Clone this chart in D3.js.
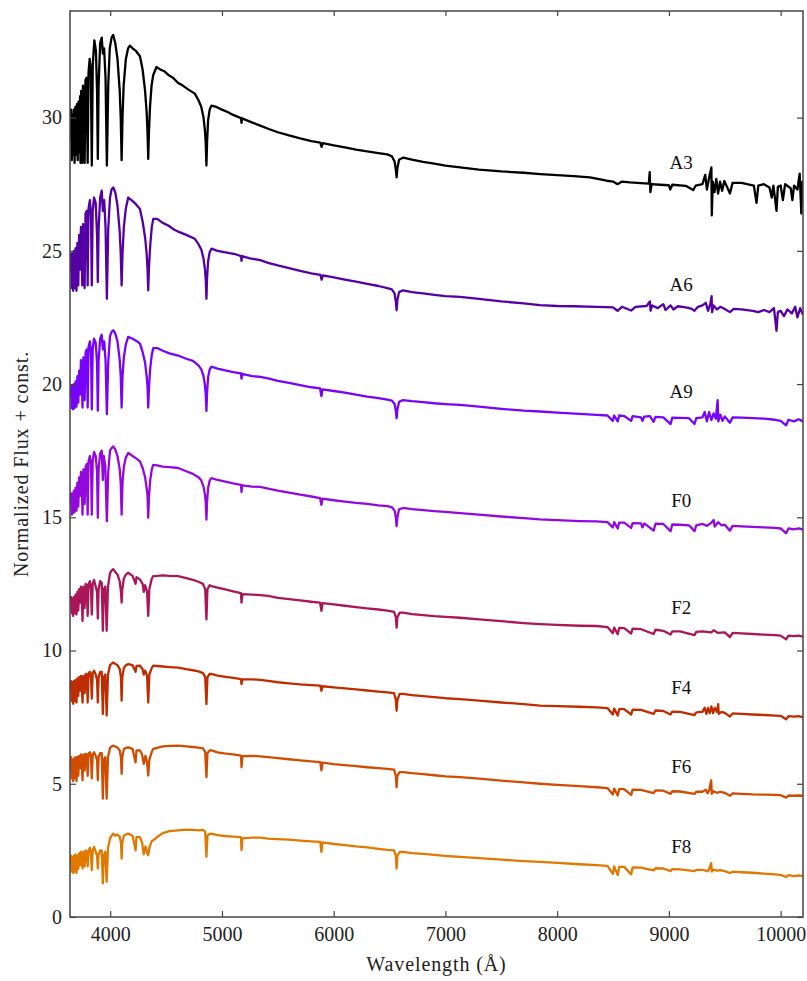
<!DOCTYPE html>
<html>
<head>
<meta charset="utf-8">
<script src="https://cdn.jsdelivr.net/npm/d3@7"></script>
<style>
body { margin: 0; background: #fff; }
svg { display: block; }
.tick text { font-family: "Liberation Serif", "Times New Roman", serif; font-size: 20px; fill: #222; }
.tick line { stroke: #444; stroke-width: 1.2px; }
.frame { fill: none; stroke: #444; stroke-width: 1.5px; }
.spectrum { fill: none; stroke-width: 2.3px; stroke-linejoin: round; }
.sptype { font-family: "Liberation Serif", "Times New Roman", serif; font-size: 19px; fill: #111; }
.axtitle { font-family: "Liberation Serif", "Times New Roman", serif; font-size: 20px; fill: #222; letter-spacing: 0.9px; }
</style>
</head>
<body>
<svg id="chart" width="807" height="981"></svg>
<script>
// spectral types, top to bottom
var spectralTypes = ["A3", "A6", "A9", "F0", "F2", "F4", "F6", "F8"];
var lineColors = ["#000000", "#5500a4", "#7803fb", "#9309dd", "#aa1657", "#be2c00", "#d04c00", "#e17800"];
var wavelengthTicks = [4000, 5000, 6000, 7000, 8000, 9000, 10000];
var fluxTicks = [0, 5, 10, 15, 20, 25, 30];

// [wavelength (A), normalized flux + offset]
var specA3 = [[3645,29.2],[3650,30.3],[3656,28.4],[3662,30.1],[3668,28.6],[3674,30.3],[3681,28.3],[3688,30.4],[3695,28.6],[3702,30.5],[3709,28.4],[3716,30.6],[3723,28.7],[3730,30.8],[3734,28.3],[3740,31.0],[3746,28.8],[3750,28.3],[3756,31.2],[3764,30.6],[3771,28.3],[3778,31.4],[3788,31.5],[3798,28.3],[3806,31.7],[3816,32.2],[3826,31.8],[3835,28.2],[3844,32.0],[3858,32.9],[3872,32.5],[3882,31.0],[3889,28.45],[3896,31.2],[3910,32.8],[3924,33.0],[3934,32.4],[3945,32.6],[3958,31.5],[3970,28.2],[3982,31.2],[3996,32.6],[4012,33.0],[4027,33.1],[4045,32.8],[4065,32.2],[4085,31.0],[4094,30.0],[4102,28.4],[4110,30.0],[4120,31.2],[4140,32.2],[4160,32.6],[4176,32.7],[4200,32.6],[4230,32.5],[4266,32.3],[4290,31.8],[4312,31.0],[4326,30.2],[4334,29.4],[4340,28.45],[4347,29.5],[4356,30.4],[4370,31.2],[4385,31.6],[4414,31.9],[4450,31.8],[4480,31.75],[4520,31.6],[4560,31.5],[4608,31.3],[4650,31.2],[4700,31.05],[4757,30.9],[4790,30.65],[4815,30.4],[4835,30.0],[4848,29.5],[4855,29.0],[4861,28.2],[4867,29.1],[4876,29.9],[4890,30.3],[4906,30.45],[4950,30.4],[5000,30.3],[5055,30.2],[5100,30.1],[5170,29.98],[5175,29.8],[5180,29.97],[5250,29.85],[5342,29.7],[5413,29.58],[5500,29.45],[5600,29.33],[5700,29.22],[5800,29.12],[5880,29.06],[5892,28.9],[5902,29.04],[6000,28.96],[6100,28.88],[6200,28.8],[6300,28.73],[6400,28.67],[6480,28.62],[6520,28.55],[6545,28.35],[6556,28.05],[6563,27.76],[6570,28.1],[6585,28.42],[6623,28.5],[6700,28.42],[6800,28.34],[6900,28.27],[7000,28.2],[7131,28.13],[7300,28.05],[7500,27.98],[7700,27.93],[7850,27.88],[8000,27.84],[8150,27.8],[8293,27.76],[8443,27.63],[8500,27.6],[8540,27.5],[8580,27.6],[8651,27.57],[8750,27.54],[8820,27.52],[8828,27.95],[8834,27.2],[8845,27.5],[8920,27.48],[9000,27.46],[9012,27.3],[9030,27.48],[9150,27.44],[9218,27.28],[9240,27.45],[9300,27.5],[9325,27.85],[9340,27.3],[9360,27.75],[9380,28.13],[9384,26.33],[9392,27.6],[9408,27.2],[9424,27.7],[9440,27.15],[9458,27.6],[9476,27.25],[9496,27.62],[9520,27.4],[9546,27.15],[9570,27.55],[9650,27.55],[9700,27.5],[9760,27.45],[9784,26.8],[9800,27.45],[9850,27.5],[9900,27.38],[9920,27.0],[9935,27.45],[9963,26.5],[9975,27.4],[10000,27.45],[10020,26.9],[10040,27.5],[10090,27.35],[10105,26.9],[10120,27.45],[10150,27.3],[10170,27.9],[10185,26.4],[10195,27.6],[10200,27.3]];

var specA6 = [[3645,24.2],[3650,24.9],[3656,23.6],[3662,24.9],[3668,23.5],[3675,25.0],[3682,23.6],[3690,25.1],[3698,23.5],[3706,25.3],[3714,23.7],[3722,25.6],[3730,24.3],[3738,25.9],[3745,24.6],[3750,23.7],[3757,26.0],[3764,25.0],[3771,23.6],[3779,26.4],[3790,26.5],[3798,23.7],[3806,26.6],[3818,26.9],[3828,26.3],[3835,23.7],[3843,26.5],[3855,27.0],[3870,26.8],[3882,25.6],[3889,23.83],[3896,25.8],[3910,27.0],[3924,27.26],[3934,26.5],[3946,26.9],[3958,25.9],[3970,23.2],[3982,25.8],[3998,27.0],[4012,27.3],[4027,27.38],[4045,27.2],[4065,26.7],[4085,25.7],[4094,24.9],[4102,23.7],[4110,24.9],[4122,25.9],[4140,26.6],[4161,27.0],[4190,26.9],[4230,26.75],[4266,26.57],[4290,26.1],[4312,25.5],[4326,24.9],[4334,24.3],[4340,23.52],[4347,24.4],[4358,25.2],[4372,25.9],[4385,26.2],[4420,26.2],[4470,26.05],[4519,25.95],[4570,25.8],[4620,25.7],[4680,25.6],[4757,25.45],[4790,25.25],[4815,25.05],[4835,24.7],[4848,24.3],[4855,23.9],[4861,23.2],[4867,24.0],[4876,24.6],[4890,24.95],[4906,25.08],[4960,25.0],[5020,24.95],[5115,24.88],[5170,24.8],[5175,24.62],[5180,24.8],[5250,24.72],[5342,24.65],[5413,24.55],[5500,24.45],[5600,24.35],[5700,24.25],[5800,24.15],[5880,24.1],[5892,23.92],[5902,24.08],[6000,24.0],[6100,23.92],[6200,23.84],[6300,23.76],[6400,23.68],[6480,23.6],[6520,23.55],[6545,23.4],[6556,23.1],[6563,22.77],[6570,23.15],[6585,23.45],[6621,23.52],[6700,23.45],[6800,23.4],[6900,23.35],[7000,23.3],[7131,23.27],[7300,23.2],[7500,23.1],[7700,23.03],[7846,22.96],[8000,22.93],[8150,22.92],[8353,22.9],[8500,22.88],[8540,22.75],[8580,22.9],[8662,22.76],[8700,22.9],[8800,22.93],[8830,23.1],[8836,22.75],[8850,22.95],[8900,22.85],[8950,23.0],[8970,22.78],[9015,22.95],[9040,22.8],[9080,22.92],[9150,22.88],[9200,22.83],[9229,22.75],[9260,22.9],[9300,22.95],[9330,23.05],[9350,22.75],[9370,23.0],[9382,23.3],[9386,22.7],[9400,22.95],[9430,22.8],[9460,22.9],[9500,22.82],[9546,22.7],[9580,22.82],[9650,22.8],[9750,22.75],[9800,22.7],[9850,22.78],[9900,22.7],[9940,22.85],[9963,22.0],[9975,22.7],[10000,22.75],[10030,22.55],[10060,22.8],[10100,22.65],[10130,22.9],[10150,22.5],[10175,22.85],[10200,22.6]];

var specA9 = [[3645,19.5],[3650,19.9],[3656,19.1],[3662,19.95],[3668,19.05],[3675,20.0],[3682,19.1],[3690,20.1],[3698,19.15],[3706,20.3],[3714,19.3],[3722,20.5],[3730,19.6],[3738,20.9],[3745,20.2],[3752,19.12],[3760,21.0],[3771,19.4],[3780,21.2],[3790,21.3],[3798,19.12],[3806,21.4],[3818,21.6],[3828,21.2],[3835,19.05],[3843,21.3],[3855,21.7],[3870,21.55],[3882,20.8],[3889,19.0],[3896,20.9],[3910,21.7],[3924,21.85],[3934,21.3],[3946,21.6],[3958,20.9],[3970,18.87],[3982,20.8],[3998,21.8],[4012,21.95],[4027,22.02],[4045,21.9],[4065,21.6],[4085,20.9],[4094,20.3],[4102,19.12],[4110,20.3],[4122,21.0],[4140,21.5],[4161,21.77],[4200,21.7],[4235,21.62],[4266,21.52],[4290,21.2],[4312,20.8],[4326,20.3],[4334,19.9],[4340,19.12],[4347,19.9],[4358,20.6],[4372,21.1],[4385,21.35],[4420,21.35],[4470,21.25],[4530,21.15],[4608,21.07],[4680,20.95],[4740,20.87],[4790,20.7],[4815,20.55],[4835,20.3],[4848,19.95],[4855,19.6],[4861,18.99],[4867,19.7],[4876,20.25],[4890,20.55],[4906,20.65],[4960,20.58],[5020,20.52],[5100,20.45],[5170,20.4],[5175,20.2],[5180,20.38],[5270,20.3],[5342,20.27],[5413,20.21],[5500,20.12],[5600,20.04],[5700,19.96],[5800,19.88],[5878,19.84],[5890,19.55],[5900,19.8],[6000,19.74],[6100,19.68],[6200,19.6],[6300,19.53],[6400,19.47],[6480,19.42],[6520,19.38],[6545,19.25],[6556,19.0],[6563,18.72],[6570,19.05],[6585,19.33],[6621,19.4],[6700,19.36],[6800,19.32],[6900,19.28],[7000,19.25],[7131,19.22],[7300,19.15],[7500,19.07],[7700,19.0],[7846,18.97],[8000,18.93],[8200,18.88],[8353,18.84],[8450,18.82],[8498,18.62],[8510,18.82],[8542,18.6],[8555,18.82],[8600,18.8],[8662,18.62],[8675,18.8],[8750,18.75],[8763,18.62],[8780,18.78],[8830,18.8],[8863,18.58],[8880,18.77],[8950,18.75],[9015,18.5],[9030,18.74],[9100,18.73],[9180,18.72],[9229,18.5],[9245,18.72],[9300,18.75],[9320,18.95],[9340,18.6],[9360,18.95],[9380,18.65],[9400,18.9],[9420,18.7],[9436,19.4],[9442,18.6],[9460,18.85],[9480,18.62],[9500,18.78],[9546,18.55],[9570,18.75],[9650,18.74],[9750,18.72],[9850,18.7],[9950,18.66],[10000,18.62],[10049,18.45],[10070,18.66],[10120,18.6],[10160,18.68],[10200,18.6]];

var specF0 = [[3645,15.5],[3650,15.9],[3656,15.1],[3662,15.9],[3668,15.15],[3675,16.0],[3682,15.2],[3690,16.1],[3698,15.25],[3706,16.3],[3714,15.4],[3722,16.5],[3730,15.8],[3738,16.7],[3745,16.3],[3752,15.1],[3760,16.8],[3771,15.5],[3780,16.9],[3790,17.0],[3798,15.1],[3806,17.1],[3818,17.3],[3828,17.0],[3835,15.1],[3843,17.1],[3855,17.45],[3870,17.3],[3882,16.7],[3889,14.98],[3896,16.8],[3910,17.4],[3924,17.5],[3934,16.4],[3942,17.3],[3956,16.9],[3970,14.85],[3982,16.7],[3998,17.5],[4012,17.6],[4027,17.66],[4045,17.55],[4065,17.3],[4085,16.8],[4094,16.3],[4102,15.1],[4110,16.3],[4122,16.9],[4140,17.25],[4161,17.41],[4200,17.3],[4235,17.2],[4266,17.1],[4290,16.85],[4312,16.5],[4326,16.1],[4334,15.8],[4340,14.98],[4347,15.8],[4358,16.4],[4372,16.8],[4385,16.97],[4420,16.95],[4470,16.9],[4530,16.88],[4608,16.85],[4680,16.73],[4740,16.63],[4790,16.5],[4815,16.38],[4835,16.15],[4848,15.85],[4855,15.55],[4861,14.91],[4867,15.6],[4876,16.1],[4890,16.38],[4906,16.47],[4960,16.4],[5020,16.35],[5100,16.27],[5170,16.22],[5175,15.95],[5180,16.2],[5270,16.15],[5342,16.14],[5413,16.08],[5500,16.0],[5600,15.93],[5700,15.85],[5800,15.78],[5878,15.72],[5890,15.47],[5900,15.7],[6000,15.64],[6100,15.59],[6200,15.54],[6300,15.5],[6400,15.45],[6480,15.42],[6520,15.38],[6545,15.25],[6556,15.0],[6563,14.67],[6570,15.0],[6585,15.3],[6621,15.35],[6700,15.31],[6800,15.27],[6900,15.23],[7000,15.2],[7131,15.16],[7300,15.1],[7500,15.03],[7700,14.97],[7846,14.92],[8000,14.89],[8200,14.86],[8353,14.85],[8450,14.82],[8498,14.62],[8510,14.82],[8542,14.58],[8555,14.8],[8600,14.8],[8662,14.6],[8675,14.78],[8750,14.77],[8763,14.62],[8780,14.77],[8863,14.5],[8880,14.76],[8950,14.75],[9015,14.48],[9030,14.73],[9100,14.72],[9180,14.7],[9229,14.48],[9245,14.7],[9300,14.75],[9340,14.68],[9380,14.8],[9400,14.9],[9410,14.65],[9440,14.82],[9470,14.7],[9500,14.72],[9546,14.5],[9570,14.68],[9650,14.66],[9750,14.64],[9850,14.62],[9950,14.6],[10000,14.58],[10049,14.4],[10070,14.58],[10120,14.55],[10160,14.58],[10200,14.54]];

var specF2 = [[3645,11.8],[3650,12.0],[3656,11.4],[3662,11.95],[3668,11.3],[3675,12.0],[3682,11.4],[3690,12.1],[3698,11.35],[3706,12.2],[3714,11.5],[3722,12.3],[3730,11.8],[3738,12.4],[3745,12.0],[3752,11.11],[3760,12.4],[3771,11.6],[3780,12.5],[3790,12.45],[3798,11.3],[3806,12.5],[3818,12.6],[3828,12.3],[3835,11.35],[3843,12.5],[3855,12.65],[3870,12.4],[3882,12.2],[3889,11.2],[3896,12.3],[3910,12.6],[3924,12.55],[3934,10.74],[3942,12.3],[3956,12.4],[3968,10.74],[3980,12.4],[3998,12.9],[4012,13.0],[4027,13.05],[4045,12.95],[4065,12.85],[4085,12.6],[4096,12.2],[4102,11.8],[4108,12.3],[4122,12.7],[4140,12.85],[4161,12.92],[4200,12.8],[4227,12.5],[4235,12.75],[4266,12.67],[4290,12.5],[4300,12.2],[4312,12.45],[4330,12.2],[4340,11.3],[4350,12.3],[4372,12.7],[4385,12.79],[4420,12.8],[4470,12.82],[4530,12.8],[4608,12.79],[4680,12.72],[4740,12.65],[4790,12.58],[4830,12.5],[4850,12.3],[4861,11.17],[4870,12.3],[4890,12.45],[4906,12.42],[4960,12.36],[5020,12.3],[5100,12.22],[5170,12.15],[5175,11.8],[5183,12.12],[5270,12.1],[5342,12.08],[5413,12.05],[5500,11.98],[5600,11.93],[5700,11.88],[5800,11.83],[5878,11.8],[5890,11.49],[5900,11.78],[6000,11.73],[6100,11.68],[6200,11.63],[6300,11.58],[6400,11.54],[6480,11.5],[6540,11.45],[6556,11.25],[6563,10.86],[6570,11.25],[6590,11.42],[6621,11.42],[6700,11.37],[6800,11.33],[6900,11.29],[7000,11.26],[7131,11.23],[7300,11.17],[7500,11.1],[7700,11.03],[7846,10.99],[8000,10.96],[8200,10.93],[8353,10.92],[8450,10.88],[8498,10.65],[8510,10.86],[8542,10.61],[8555,10.85],[8600,10.84],[8662,10.64],[8675,10.82],[8750,10.8],[8863,10.62],[8880,10.78],[8950,10.74],[9015,10.6],[9030,10.72],[9100,10.72],[9229,10.58],[9245,10.7],[9300,10.72],[9380,10.68],[9400,10.76],[9440,10.66],[9500,10.68],[9546,10.5],[9570,10.66],[9650,10.64],[9750,10.62],[9850,10.6],[9950,10.58],[10000,10.56],[10049,10.42],[10070,10.56],[10120,10.54],[10160,10.56],[10200,10.52]];

var specF4 = [[3645,8.5],[3650,8.85],[3656,8.1],[3662,8.8],[3668,8.0],[3675,8.85],[3682,8.1],[3690,8.9],[3698,8.05],[3706,8.95],[3714,8.3],[3722,9.0],[3730,8.5],[3738,9.05],[3745,8.7],[3752,8.05],[3760,9.05],[3771,8.4],[3780,9.12],[3790,9.1],[3798,8.05],[3806,9.15],[3818,9.2],[3828,9.0],[3835,8.2],[3843,9.15],[3855,9.24],[3870,9.1],[3882,8.9],[3889,8.05],[3896,9.0],[3910,9.2],[3924,9.2],[3934,7.62],[3942,9.0],[3956,9.1],[3968,7.56],[3980,9.1],[3998,9.45],[4012,9.5],[4027,9.55],[4045,9.5],[4065,9.45],[4085,9.3],[4096,9.0],[4102,8.12],[4108,9.0],[4122,9.35],[4140,9.45],[4161,9.49],[4200,9.45],[4227,9.2],[4235,9.42],[4266,9.43],[4290,9.3],[4300,9.1],[4312,9.25],[4330,9.05],[4340,8.05],[4350,9.1],[4372,9.35],[4385,9.43],[4420,9.42],[4470,9.4],[4530,9.38],[4608,9.36],[4680,9.3],[4740,9.26],[4790,9.22],[4830,9.15],[4850,9.0],[4861,7.99],[4870,9.0],[4890,9.12],[4906,9.12],[4960,9.06],[5020,9.02],[5100,8.97],[5170,8.93],[5175,8.74],[5183,8.92],[5270,8.92],[5342,8.9],[5413,8.86],[5500,8.81],[5600,8.77],[5700,8.73],[5800,8.7],[5880,8.68],[5890,8.49],[5900,8.66],[6000,8.62],[6100,8.58],[6200,8.54],[6300,8.5],[6400,8.46],[6480,8.43],[6540,8.4],[6556,8.15],[6563,7.74],[6570,8.15],[6590,8.37],[6621,8.37],[6700,8.33],[6800,8.29],[6900,8.25],[7000,8.21],[7131,8.18],[7300,8.12],[7500,8.05],[7700,7.99],[7846,7.93],[8000,7.91],[8200,7.89],[8353,7.87],[8450,7.84],[8498,7.6],[8510,7.82],[8542,7.56],[8555,7.8],[8600,7.8],[8662,7.6],[8675,7.78],[8750,7.77],[8863,7.62],[8880,7.75],[8950,7.73],[9015,7.6],[9030,7.71],[9100,7.7],[9229,7.58],[9245,7.68],[9300,7.7],[9320,7.85],[9335,7.62],[9350,7.85],[9365,7.65],[9380,7.9],[9395,7.65],[9410,7.85],[9430,7.7],[9441,7.99],[9446,7.62],[9470,7.7],[9500,7.66],[9546,7.52],[9570,7.64],[9650,7.62],[9750,7.6],[9850,7.58],[9950,7.56],[10000,7.55],[10049,7.42],[10070,7.54],[10120,7.52],[10160,7.54],[10200,7.5]];

var specF6 = [[3645,5.7],[3650,6.0],[3656,5.2],[3662,5.9],[3668,5.1],[3675,5.95],[3682,5.2],[3690,6.0],[3698,5.1],[3706,6.0],[3714,5.3],[3722,6.05],[3730,5.6],[3738,6.1],[3745,5.8],[3752,5.13],[3760,6.1],[3771,5.5],[3780,6.12],[3790,6.1],[3798,5.3],[3806,6.15],[3818,6.18],[3828,6.0],[3835,5.2],[3843,6.1],[3855,6.18],[3870,6.05],[3882,5.9],[3889,5.13],[3896,6.0],[3910,6.15],[3924,6.15],[3934,4.44],[3942,5.9],[3956,6.0],[3968,4.44],[3980,6.0],[3998,6.35],[4012,6.4],[4027,6.43],[4045,6.4],[4065,6.35],[4085,6.25],[4096,6.0],[4102,5.37],[4108,6.0],[4122,6.3],[4140,6.35],[4161,6.37],[4200,6.3],[4227,5.8],[4235,6.25],[4266,6.25],[4285,6.1],[4300,5.75],[4315,6.05],[4330,5.8],[4340,5.31],[4350,5.9],[4372,6.2],[4385,6.31],[4420,6.35],[4470,6.4],[4530,6.42],[4608,6.43],[4680,6.4],[4740,6.38],[4790,6.36],[4830,6.33],[4850,6.2],[4861,5.25],[4870,6.15],[4890,6.25],[4906,6.25],[4960,6.18],[5020,6.14],[5100,6.1],[5170,6.06],[5175,5.62],[5183,6.04],[5270,6.05],[5342,6.03],[5413,6.0],[5500,5.96],[5600,5.92],[5700,5.88],[5800,5.84],[5880,5.81],[5890,5.5],[5900,5.79],[6000,5.74],[6100,5.7],[6200,5.66],[6300,5.62],[6400,5.59],[6480,5.56],[6540,5.53],[6556,5.3],[6563,4.87],[6570,5.3],[6590,5.44],[6621,5.44],[6700,5.4],[6800,5.36],[6900,5.32],[7000,5.28],[7131,5.25],[7300,5.19],[7500,5.12],[7700,5.05],[7846,5.0],[8000,4.96],[8200,4.91],[8353,4.87],[8450,4.84],[8498,4.6],[8510,4.82],[8542,4.56],[8555,4.8],[8600,4.8],[8662,4.58],[8675,4.78],[8750,4.77],[8863,4.65],[8880,4.75],[8950,4.74],[9015,4.62],[9030,4.72],[9100,4.71],[9229,4.62],[9245,4.7],[9300,4.7],[9330,4.78],[9345,4.64],[9360,4.75],[9378,5.13],[9384,4.62],[9400,4.72],[9430,4.66],[9460,4.7],[9500,4.66],[9546,4.55],[9570,4.64],[9650,4.62],[9750,4.6],[9850,4.59],[9950,4.58],[10000,4.57],[10049,4.48],[10070,4.56],[10120,4.55],[10160,4.56],[10200,4.55]];

var specF8 = [[3645,2.0],[3650,2.3],[3656,1.7],[3662,2.25],[3668,1.65],[3675,2.3],[3682,1.7],[3690,2.35],[3698,1.65],[3706,2.3],[3714,1.8],[3722,2.4],[3730,1.95],[3738,2.45],[3745,2.1],[3752,1.82],[3760,2.45],[3771,1.9],[3780,2.5],[3790,2.45],[3798,1.9],[3806,2.5],[3818,2.6],[3828,2.3],[3835,1.76],[3843,2.5],[3855,2.63],[3870,2.45],[3882,2.3],[3889,1.82],[3896,2.35],[3910,2.5],[3924,2.5],[3934,1.26],[3942,2.3],[3956,2.45],[3968,1.32],[3980,2.6],[3998,2.94],[4012,3.05],[4027,3.13],[4045,3.05],[4065,3.1],[4085,3.0],[4096,2.8],[4102,2.19],[4108,2.8],[4122,3.05],[4140,3.1],[4161,3.13],[4200,3.05],[4227,2.5],[4235,3.0],[4266,3.0],[4285,2.8],[4300,2.35],[4315,2.65],[4330,2.4],[4340,2.32],[4350,2.6],[4372,2.85],[4385,2.88],[4420,3.0],[4470,3.15],[4530,3.22],[4608,3.25],[4680,3.28],[4740,3.27],[4790,3.25],[4830,3.27],[4850,3.2],[4861,2.26],[4870,3.05],[4890,3.12],[4906,3.13],[4960,3.07],[5020,3.04],[5100,3.02],[5170,3.0],[5175,2.51],[5183,2.95],[5270,2.98],[5342,2.98],[5413,2.94],[5500,2.92],[5600,2.9],[5700,2.87],[5800,2.84],[5880,2.82],[5890,2.44],[5900,2.8],[6000,2.74],[6100,2.7],[6200,2.65],[6300,2.61],[6400,2.56],[6480,2.52],[6540,2.5],[6556,2.3],[6563,1.82],[6570,2.3],[6590,2.44],[6621,2.44],[6700,2.4],[6800,2.37],[6900,2.33],[7000,2.29],[7131,2.26],[7300,2.21],[7500,2.15],[7700,2.1],[7846,2.07],[8000,2.03],[8200,1.98],[8353,1.95],[8450,1.92],[8498,1.62],[8510,1.9],[8542,1.57],[8555,1.88],[8600,1.88],[8662,1.6],[8675,1.86],[8750,1.85],[8863,1.75],[8880,1.83],[8950,1.82],[9015,1.72],[9030,1.8],[9100,1.79],[9229,1.72],[9245,1.77],[9300,1.77],[9345,1.72],[9360,1.8],[9378,2.02],[9384,1.7],[9400,1.78],[9430,1.74],[9460,1.76],[9500,1.72],[9546,1.65],[9570,1.7],[9650,1.68],[9750,1.66],[9850,1.63],[9950,1.6],[10000,1.58],[10049,1.5],[10070,1.57],[10120,1.53],[10160,1.56],[10200,1.53]];

var spectra = [specA3, specA6, specA9, specF0, specF2, specF4, specF6, specF8];

var svg = d3.select("#chart");
var margin = {top: 11, right: 4, bottom: 64, left: 70};
var W = 807 - margin.left - margin.right;
var H = 981 - margin.top - margin.bottom;

var x = d3.scaleLinear().domain([3640, 10200]).range([0, W]);
var y = d3.scaleLinear().domain([0, 34]).range([H, 0]);

var g = svg.append("g").attr("transform", "translate(" + margin.left + "," + margin.top + ")");

g.append("clipPath").attr("id", "plotclip")
  .append("rect").attr("width", W).attr("height", H);

var line = d3.line().x(d => x(d[0])).y(d => y(d[1]));

var plot = g.append("g").attr("clip-path", "url(#plotclip)");
plot.selectAll("path.spectrum")
  .data(spectra)
  .enter().append("path")
  .attr("class", "spectrum")
  .attr("stroke", (d, i) => lineColors[i])
  .attr("d", line);

// spectral type labels sit a little above the red end of each curve
g.selectAll("text.sptype")
  .data(spectra)
  .enter().append("text")
  .attr("class", "sptype")
  .attr("x", x(9110))
  .attr("y", d => y(d3.mean(d.filter(p => p[0] >= 9900), p => p[1]) + 1.1))
  .attr("dy", "0.35em")
  .attr("text-anchor", "middle")
  .text((d, i) => spectralTypes[i]);

// axes, ticks pointing inward on all four sides
var xb = g.append("g").attr("transform", "translate(0," + H + ")")
  .call(d3.axisBottom(x).tickValues(wavelengthTicks).tickFormat(d3.format("d"))
    .tickSizeInner(-6).tickSizeOuter(0).tickPadding(10));
var xt = g.append("g")
  .call(d3.axisTop(x).tickValues(wavelengthTicks).tickFormat("")
    .tickSizeInner(-5).tickSizeOuter(0));
var yl = g.append("g")
  .call(d3.axisLeft(y).tickValues(fluxTicks).tickFormat(d3.format("d"))
    .tickSizeInner(-6).tickSizeOuter(0).tickPadding(8));
var yr = g.append("g").attr("transform", "translate(" + W + ",0)")
  .call(d3.axisRight(y).tickValues(fluxTicks).tickFormat("")
    .tickSizeInner(-6).tickSizeOuter(0));
[xb, xt, yl, yr].forEach(a => { a.select(".domain").remove(); a.attr("font-family", null).attr("font-size", null); });

g.append("rect").attr("class", "frame").attr("width", W).attr("height", H);

svg.append("text").attr("class", "axtitle")
  .attr("x", margin.left + W / 2).attr("y", 971)
  .attr("text-anchor", "middle")
  .text("Wavelength (Å)");

svg.append("text").attr("class", "axtitle")
  .attr("transform", "translate(28," + (margin.top + H / 2) + ") rotate(-90)")
  .attr("text-anchor", "middle")
  .text("Normalized Flux + const.");
</script>
</body>
</html>
